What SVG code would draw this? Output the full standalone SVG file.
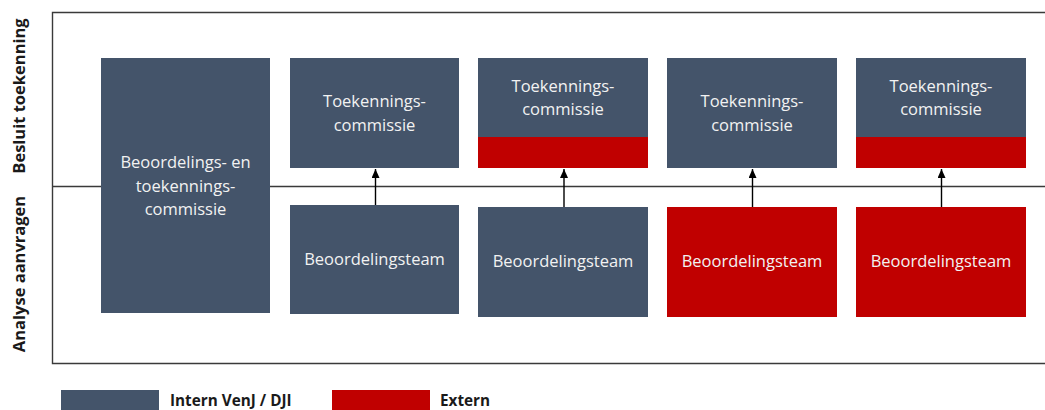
<svg xmlns="http://www.w3.org/2000/svg" width="1045" height="410" viewBox="0 0 1045 410">
<style>
.frame{stroke:#3a3a3a;stroke-width:1.4;fill:none}
.int{fill:#44546A}
.ext{fill:#C00000}
.t{font-family:"Open Sans","Noto Sans",sans-serif;font-size:16.5px;fill:#F2F2F2;text-anchor:middle}
.lab{font-family:"Open Sans","Noto Sans",sans-serif;font-size:16.5px;font-weight:bold;fill:#1a1a1a;text-anchor:middle}
.leg{font-family:"Open Sans","Noto Sans",sans-serif;font-size:15.3px;font-weight:bold;fill:#1a1a1a}
.conn{stroke:#000;stroke-width:1.4;fill:none}
</style>
<defs>
<marker id="ah" viewBox="0 0 9 8" refX="9" refY="4" markerWidth="9" markerHeight="8" markerUnits="userSpaceOnUse" orient="auto">
<path d="M0,0 L9,4 L0,8 Z" fill="#000"/>
</marker>
</defs>
<g id="frame">
<path class="frame" d="M1045,12.5 H52.5 V363.5 H1045"/>
<path class="frame" d="M52.5,186.5 H1045"/>
</g>
<g id="lane-labels">
<text class="lab" transform="translate(25,96) rotate(-90)">Besluit toekenning</text>
<text class="lab" transform="translate(25,274) rotate(-90)">Analyse aanvragen</text>
</g>
<g id="node-bt-commissie">
<rect class="int" x="101" y="58" width="169" height="255"/>
<text class="t" x="185.5" y="168">Beoordelings- en</text>
<text class="t" x="185.5" y="192">toekennings-</text>
<text class="t" x="185.5" y="215">commissie</text>
</g>
<g id="node-tc2">
<rect class="int" x="290" y="58" width="169" height="110"/>
<text class="t" x="374.5" y="107">Toekennings-</text>
<text class="t" x="374.5" y="131">commissie</text>
</g>
<g id="node-tc3">
<rect class="int" x="478" y="58" width="170" height="110"/>
<rect class="ext" x="478" y="137" width="170" height="31"/>
<text class="t" x="563" y="92">Toekennings-</text>
<text class="t" x="563" y="115">commissie</text>
</g>
<g id="node-tc4">
<rect class="int" x="667" y="58" width="170" height="110"/>
<text class="t" x="752" y="107">Toekennings-</text>
<text class="t" x="752" y="131">commissie</text>
</g>
<g id="node-tc5">
<rect class="int" x="856" y="58" width="170" height="110"/>
<rect class="ext" x="856" y="137" width="170" height="31"/>
<text class="t" x="941" y="92">Toekennings-</text>
<text class="t" x="941" y="115">commissie</text>
</g>
<g id="node-bt2">
<rect class="int" x="290" y="205" width="169" height="109"/>
<text class="t" x="374.5" y="265">Beoordelingsteam</text>
</g>
<g id="node-bt3">
<rect class="int" x="478" y="207" width="170" height="110"/>
<text class="t" x="563" y="267">Beoordelingsteam</text>
</g>
<g id="node-bt4">
<rect class="ext" x="667" y="207" width="170" height="110"/>
<text class="t" x="752" y="267">Beoordelingsteam</text>
</g>
<g id="node-bt5">
<rect class="ext" x="856" y="207" width="170" height="110"/>
<text class="t" x="941" y="267">Beoordelingsteam</text>
</g>
<g id="connectors">
<line class="conn" x1="375.5" y1="205" x2="375.5" y2="169" marker-end="url(#ah)"/>
<line class="conn" x1="564" y1="207" x2="564" y2="169" marker-end="url(#ah)"/>
<line class="conn" x1="752.5" y1="207" x2="752.5" y2="169" marker-end="url(#ah)"/>
<line class="conn" x1="941.5" y1="207" x2="941.5" y2="169" marker-end="url(#ah)"/>
</g>
<g id="legend">
<rect class="int" x="61" y="390" width="98" height="20"/>
<text class="leg" x="170" y="406">Intern VenJ / DJI</text>
<rect class="ext" x="332" y="390" width="98" height="20"/>
<text class="leg" x="440" y="406">Extern</text>
</g>
</svg>
